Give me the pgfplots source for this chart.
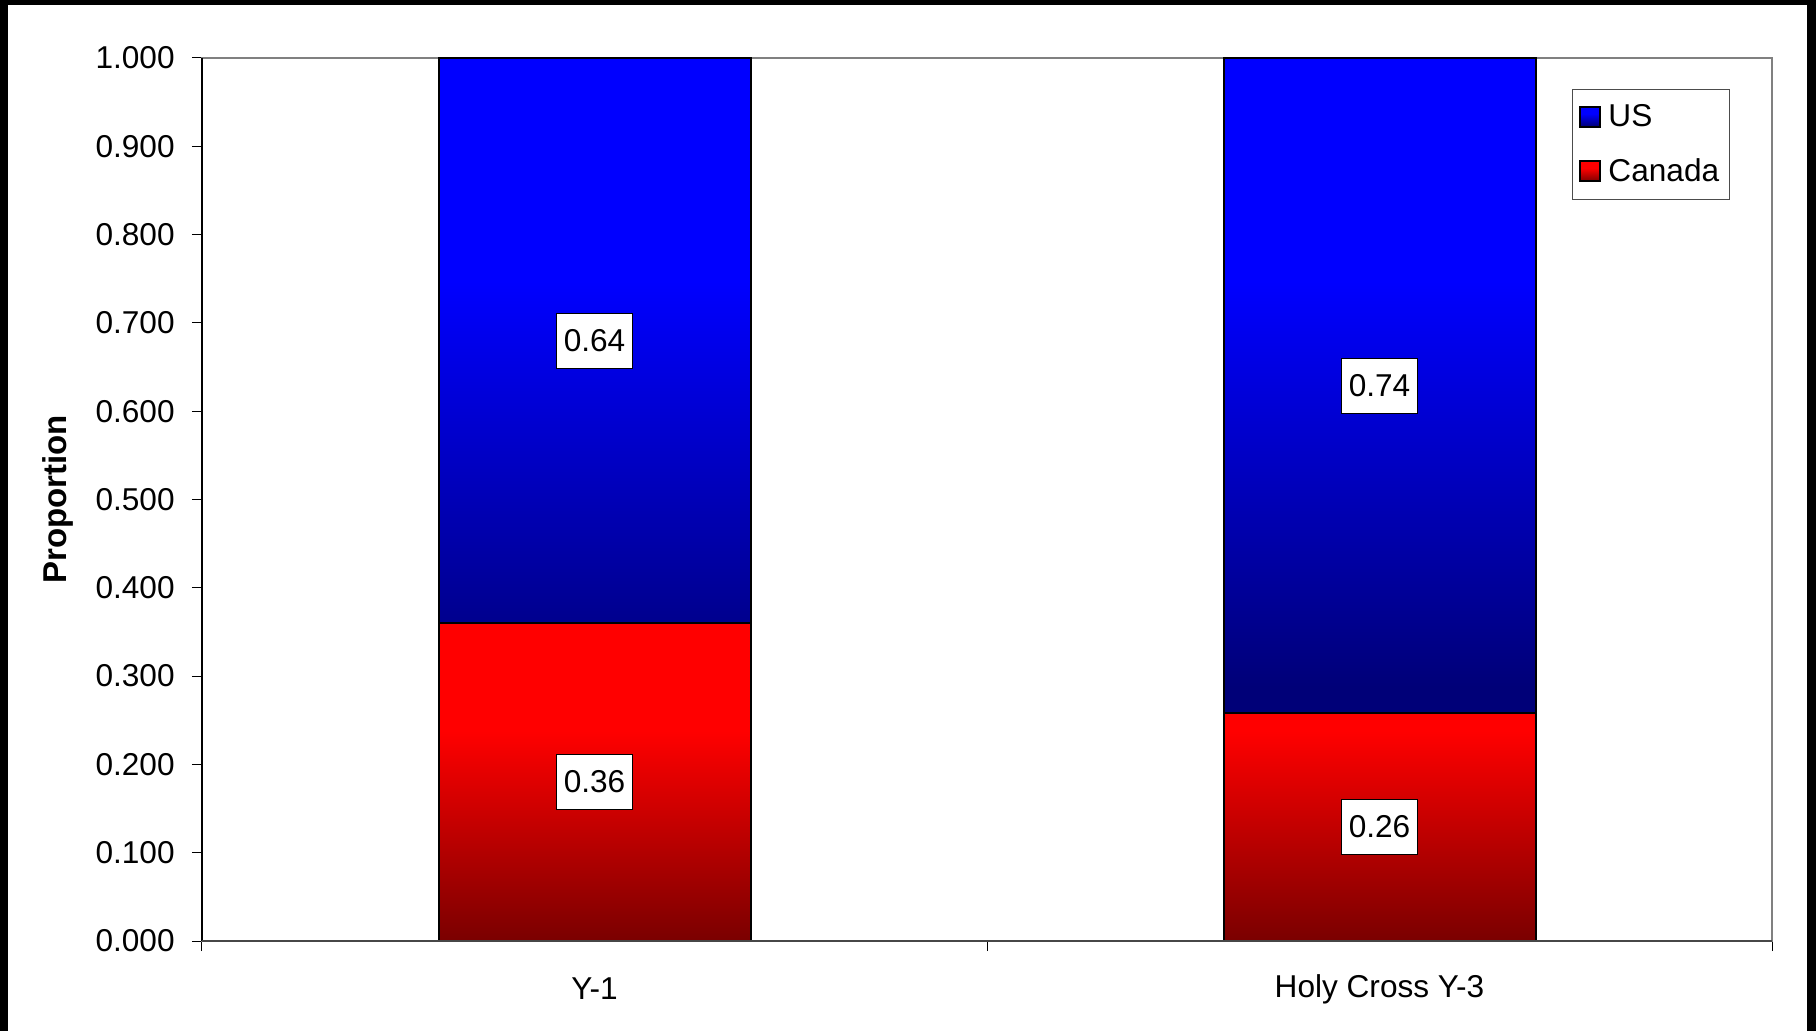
\documentclass[border=0pt]{standalone}
\usepackage{fontspec}
\setmainfont{Liberation Sans}
\usepackage{pgfplots}
\pgfplotsset{compat=1.18}
\definecolor{navyc}{HTML}{000078}
\definecolor{darkredc}{HTML}{7A0000}
\pgfdeclareverticalshading{blueshade}{100bp}{color(0bp)=(navyc); color(27bp)=(navyc); color(58bp)=(blue); color(100bp)=(blue)}
\pgfdeclareverticalshading{redshade}{100bp}{color(0bp)=(darkredc); color(25bp)=(darkredc); color(58bp)=(red); color(100bp)=(red)}
\pgfplotstableread{
x canada us
0 0.360 0.640
1 0.258 0.742
}\datatable
\pgfplotstableread{
x y label
0 0.180 0.36
0 0.680 0.64
1 0.129 0.26
1 0.629 0.74
}\labeltable
\begin{document}
\begin{tikzpicture}[font=\fontsize{15.8bp}{19bp}\selectfont]
\path[use as bounding box] (-101bp,-45bp) rectangle (807bp,470.5bp);
\fill[white] (-101bp,-45bp) rectangle (807bp,470.5bp);
\begin{axis}[
  at={(0,0)}, anchor=south west,
  scale only axis, width=785bp, height=441.5bp,
  ybar stacked, bar width=156bp,
  xmin=-0.5, xmax=1.5, ymin=0, ymax=1,
  xtick={0,1}, xticklabels={Y-1, Holy Cross Y-3},
  minor xtick={-0.5,0.5,1.5},
  ytick={0,0.1,...,1.0},
  yticklabel={\pgfmathprintnumber[fixed,fixed zerofill,precision=3,assume math mode=true]{\tick}},
  tick align=outside, xtick pos=bottom, ytick pos=left,
  major tick length=5bp, minor tick length=5bp,
  x tick style={draw=none}, minor x tick style={draw=black, line width=0.5bp},
  y tick style={draw=black, line width=0.5bp},
  axis line style={draw=gray, line width=0.6bp},
  ylabel={\fontsize{16.5bp}{19bp}\selectfont\bfseries Proportion},
  ylabel style={at={(axis description cs:-0.0917,0.5)}, anchor=center},
  yticklabel style={anchor=east, inner sep=0pt, xshift=-8.5bp},
  xticklabel style={anchor=center, yshift=-19bp},
  legend style={at={(0.8726,0.9649)}, anchor=north west, draw=black!70, line width=0.5bp,
    inner xsep=3bp, inner ysep=5.5bp, row sep=10.5bp, font=\fontsize{15.8bp}{19bp}\selectfont,
    cells={anchor=west}},
  legend image code/.code={\draw[#1] (2bp,-5bp) rectangle (12bp,5bp); \path (14bp,0bp);},
  reverse legend,
  after end axis/.code={
    \draw[black, line width=0.6bp] (rel axis cs:0,0) -- (rel axis cs:0,1);
    \draw[black!72, line width=1bp] (rel axis cs:0,0) -- (rel axis cs:1,0);
  },
]
\addplot[draw=black, line width=1bp, shading=redshade] table[x=x, y=canada] {\datatable};
\addlegendentry{Canada}
\addplot[draw=black, line width=1bp, shading=blueshade] table[x=x, y=us] {\datatable};
\addlegendentry{US}
\end{axis}
\begin{axis}[
  at={(0,0)}, anchor=south west,
  scale only axis, width=785bp, height=441.5bp,
  xmin=-0.5, xmax=1.5, ymin=0, ymax=1, hide axis,
]
\addplot[draw=none, mark=none, nodes near coords, point meta=explicit symbolic,
  nodes near coords style={anchor=center, fill=white, draw=black, line width=0.5bp,
    inner xsep=3.5bp, inner ysep=0pt, minimum height=27.5bp,
    font=\fontsize{15.8bp}{19bp}\selectfont}]
  table[x=x, y=y, meta=label] {\labeltable};
\end{axis}
\fill[black] (-101bp,-45bp) rectangle (-97bp,470.5bp);
\fill[black] (-101bp,468bp) rectangle (807bp,470.5bp);
\fill[black] (802.5bp,-45bp) rectangle (807bp,470.5bp);
\end{tikzpicture}
\end{document}
